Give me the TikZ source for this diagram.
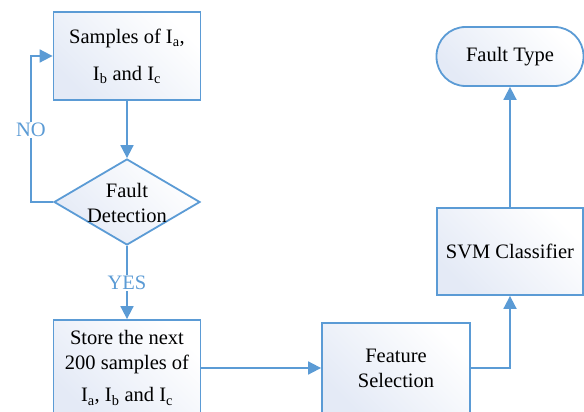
\documentclass[tikz,border=0pt]{standalone}
\usepackage{fontspec}
\setmainfont{Liberation Serif}
\usetikzlibrary{arrows.meta,shapes.geometric}
\definecolor{flowblue}{RGB}{91,155,213}
\definecolor{boxtint}{RGB}{228,234,246}
\tikzset{
  flowline/.style={draw=flowblue, line width=1.8pt},
  arr/.style={flowline, -{Triangle[length=13pt,width=13pt]}},
  shadefill/.style={top color=boxtint, bottom color=white, shading angle=135},
  procbox/.style={rectangle, flowline, shadefill, inner sep=0pt, align=center,
    font=\fontsize{20.5}{25}\selectfont},
  decbox/.style={diamond, flowline, shadefill, inner sep=0pt},
  lbl/.style={font=\fontsize{20.5}{25}\selectfont, align=center},
  branch/.style={font=\fontsize{20.5}{25}\selectfont, text=flowblue, fill=white, inner sep=1pt}
}
\begin{document}
\begin{tikzpicture}[x=1pt, y=-1pt]
  \useasboundingbox (0,0) rectangle (584,412);
  \clip (0,0) rectangle (584,412);

  % process steps
  \node[procbox, minimum width=147pt, minimum height=88pt] (samp) at (127,56)
    {Samples of I\textsubscript{a},\\[12pt] I\textsubscript{b} and I\textsubscript{c}};
  \node[decbox, minimum width=146pt, minimum height=86pt] (det) at (127,202) {};
  \node[lbl] (dettext) at (127,203) {Fault\\Detection};
  \node[procbox, minimum width=147pt, minimum height=96pt] (store) at (127,368)
    {Store the next\\200 samples of\\[7pt] I\textsubscript{a}, I\textsubscript{b} and I\textsubscript{c}};
  \node[procbox, minimum width=148pt, minimum height=90pt] (feat) at (396,368)
    {Feature\\Selection};
  \node[procbox, minimum width=146pt, minimum height=87pt] (svm) at (510,251.5)
    {SVM Classifier};
  \node[procbox, rounded corners=29pt, minimum width=147pt, minimum height=59pt] (type) at (510,56.5)
    {Fault Type};

  % connectors
  \draw[arr] (samp) -- (det);
  \coordinate (loopbot) at (31,202);
  \coordinate (looptop) at (31,56);
  \draw[arr] (det.west) -- (loopbot) -- (looptop) -- (samp.west);
  \node[branch] (no) at (31,130) {NO};
  \draw[arr] (det.south) -- (store.north);
  \node[branch] (yes) at (127,283) {YES};
  \draw[arr] (store.east) -- (feat.west);
  \draw[arr] (feat.east) -| (svm.south);
  \draw[arr] (svm.north) -- (type.south);
\end{tikzpicture}
\end{document}
